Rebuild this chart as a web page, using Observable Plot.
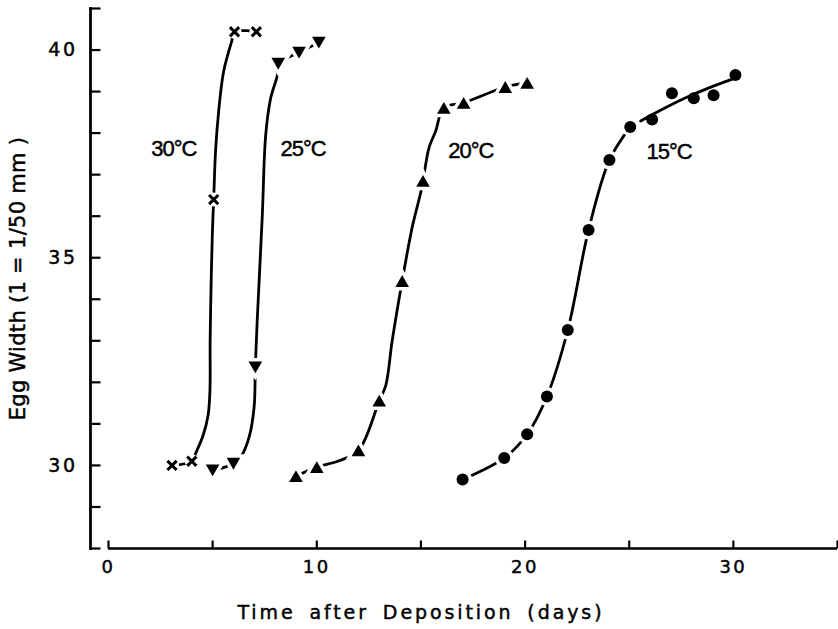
<!DOCTYPE html>
<html>
<head>
<meta charset="utf-8">
<script src="https://cdn.jsdelivr.net/npm/d3@7"></script>
<script src="https://cdn.jsdelivr.net/npm/@observablehq/plot@0.6"></script>
<style>
  body { margin: 0; background: #fff; }
  #chart svg { display: block; }
</style>
</head>
<body>
<div id="chart"></div>
<script>
// ---- axes ----
const xTicks = [0, 5, 10, 15, 20, 25, 30, 35];
const xTickLabels = [0, 10, 20, 30];
const yTicks = [28, 29, 30, 31, 32, 33, 34, 35, 36, 37, 38, 39, 40, 41];
const yTickLabels = [30, 35, 40];
const xTitle = "Time after Deposition (days)";
const yTitle = "Egg Width (1 = 1/50 mm )";

// ---- measured points (days, egg width) ----
const days30 = [3.05, 4.0, 5.05, 6.05, 7.1];
const width30 = [30.0, 30.1, 36.4, 40.44, 40.44];

const days25 = [5.0, 6.0, 7.05, 8.15, 9.15, 10.1];
const width25 = [29.88, 30.04, 32.36, 39.67, 39.94, 40.18];

const days20 = [9.0, 10.0, 12.0, 13.0, 14.1, 15.1, 16.1, 17.05, 19.05, 20.1];
const width20 = [29.74, 29.96, 30.36, 31.56, 34.44, 36.85, 38.61, 38.73, 39.11, 39.21];

const days15 = [17.0, 19.0, 20.1, 21.05, 22.05, 23.05, 24.05, 25.05, 26.1, 27.05, 28.1, 29.05, 30.1];
const width15 = [29.66, 30.18, 30.75, 31.66, 33.26, 35.67, 37.35, 38.15, 38.33, 38.96, 38.84, 38.91, 39.40];

// ---- hand-drawn fitted curves ----
const fit30 = [[3.05, 30.0], [4.0, 30.1], [4.2, 30.31], [4.54, 30.72], [4.78, 31.2], [4.87, 31.8],
  [4.88, 33.0], [4.93, 34.45], [4.99, 35.65], [5.05, 36.4], [5.14, 37.57], [5.29, 38.53],
  [5.53, 39.49], [5.92, 40.22], [6.05, 40.44], [7.1, 40.44]];
const fit25 = [[5.0, 29.88], [6.0, 30.04], [6.35, 30.2], [6.75, 30.68], [6.99, 31.4], [7.05, 32.36],
  [7.14, 33.49], [7.38, 35.97], [7.55, 37.97], [7.79, 38.85], [8.1, 39.38], [8.15, 39.67],
  [9.15, 39.94], [10.1, 40.18]];
const fit20 = [[9.0, 29.74], [10.0, 29.96], [11.0, 30.1], [12.0, 30.36], [13.0, 31.56], [13.31, 31.92], [13.62, 33.0],
  [14.1, 34.44], [14.58, 35.73], [14.99, 36.57], [15.1, 36.85], [15.39, 37.65], [15.71, 38.05],
  [16.1, 38.61], [17.05, 38.73], [19.05, 39.11], [20.1, 39.21]];
const fit15Lower = [[17.0, 29.66], [19.0, 30.18], [20.1, 30.75], [21.05, 31.66], [22.05, 33.26],
  [23.05, 35.67], [24.05, 37.35], [25.05, 38.15]];
const fit15Upper = [[25.55, 38.29], [26.43, 38.53], [27.71, 38.85], [28.83, 39.09], [29.95, 39.3]];

// ---- temperature labels ----
const seriesLabels = ["30°C", "25°C", "20°C", "15°C"];
const labelDay = [3.14, 9.34, 17.4, 26.91];
const labelWidth = [37.62, 37.62, 37.57, 37.55];

// ---- helpers ----
const rows = (xs, ys) => xs.map((x, i) => ({x, y: ys[i]}));
const pairs = (arr) => arr.map(([x, y]) => ({x, y}));
const labels = seriesLabels.map((t, i) => ({t, x: labelDay[i], y: labelWidth[i]}));

const triUp = {draw(ctx, size) {
  const r = Math.sqrt(size / Math.PI);
  ctx.moveTo(0, -0.95 * r); ctx.lineTo(1.1 * r, 0.95 * r); ctx.lineTo(-1.1 * r, 0.95 * r); ctx.closePath();
}};
const triDown = {draw(ctx, size) {
  const r = Math.sqrt(size / Math.PI);
  ctx.moveTo(0, 0.95 * r); ctx.lineTo(1.1 * r, -0.95 * r); ctx.lineTo(-1.1 * r, -0.95 * r); ctx.closePath();
}};
const cross = {draw(ctx, size) {
  const r = Math.sqrt(size / Math.PI);
  ctx.moveTo(-r, -r); ctx.lineTo(r, r); ctx.moveTo(r, -r); ctx.lineTo(-r, r);
}};
const tickRight = {draw(ctx) { ctx.moveTo(0, 0); ctx.lineTo(10, 0); }};
const tickUp = {draw(ctx) { ctx.moveTo(0, 0); ctx.lineTo(0, -8); }};

const lineOpts = {x: "x", y: "y", curve: "catmull-rom", stroke: "black", strokeWidth: 2.8, strokeLinecap: "round"};
const halo = {x: "x", y: "y", r: 6.2, fill: "black", stroke: "white", strokeWidth: 7, paintOrder: "stroke"};

const chart = Plot.plot({
  width: 838,
  height: 629,
  marginLeft: 90,
  marginRight: 1,
  marginTop: 8,
  marginBottom: 81,
  x: {domain: [-0.864, 35]},
  y: {domain: [yTicks[0], yTicks[yTicks.length - 1]]},
  style: {fontFamily: "'DejaVu Sans', sans-serif", background: "white", color: "black", overflow: "visible"},
  marks: [
    // axes
    Plot.frame({anchor: "left", strokeWidth: 2.8}),
    Plot.dot(yTicks, {y: d => d, frameAnchor: "left", symbol: tickRight, fill: "none", stroke: "black", strokeWidth: 2.2}),
    Plot.ruleY([yTicks[0]], {x1: xTicks[0], x2: xTicks[xTicks.length - 1], strokeWidth: 2.4}),
    Plot.dot(xTicks, {x: d => d, frameAnchor: "bottom", symbol: tickUp, fill: "none", stroke: "black", strokeWidth: 2.2}),
    Plot.axisY({ticks: yTickLabels, tickSize: 0, tickPadding: 13, fontSize: 19, label: null}),
    Plot.axisX({ticks: xTickLabels, tickSize: 0, tickPadding: 12, fontSize: 18, label: null}),
    Plot.text([xTitle], {x: d3.mean(xTickLabels), frameAnchor: "bottom", lineAnchor: "middle", textAnchor: "middle", dy: 64, fontSize: 19, text: d => d}),
    Plot.text([yTitle], {frameAnchor: "left", textAnchor: "middle", lineAnchor: "middle", dx: -72, rotate: -90, fontSize: 21, text: d => d}),

    // curves
    Plot.line(pairs(fit30), lineOpts),
    Plot.line(pairs(fit25), lineOpts),
    Plot.line(pairs(fit20), lineOpts),
    Plot.line(pairs(fit15Lower), lineOpts),

    // markers with white halos (gaps in the line)
    Plot.dot(rows(days30, width30), {x: "x", y: "y", r: 7, fill: "white"}),
    Plot.dot(rows(days30, width30), {x: "x", y: "y", r: 4.6, symbol: cross, fill: "none", stroke: "black", strokeWidth: 3}),
    Plot.dot(rows(days25, width25), {...halo, symbol: triDown}),
    Plot.dot(rows(days20, width20), {...halo, symbol: triUp}),
    Plot.dot(rows(days15, width15), {...halo, symbol: "circle", r: 6}),

    // fitted line over upper 15°C points
    Plot.line(pairs(fit15Upper), lineOpts),

    // temperature labels
    Plot.text(labels, {x: "x", y: "y", text: "t", fontSize: 22, fontFamily: "'Liberation Sans', Arial, sans-serif"})
  ]
});

// letter spacing and slightly heavier strokes to imitate the stencil lettering
chart.querySelectorAll("text").forEach(t => {
  const s = t.textContent;
  t.style.stroke = "black";
  t.style.strokeWidth = "0.45px";
  if (s === xTitle) { t.style.letterSpacing = "2.9px"; t.style.wordSpacing = "5px"; }
  else if (s === yTitle) { t.style.letterSpacing = "0.3px"; }
  else if (seriesLabels.includes(s)) { t.style.letterSpacing = "-1px"; }
  else if (/^\d+$/.test(s)) { t.style.letterSpacing = "2.5px"; }
});
document.getElementById("chart").appendChild(chart);
</script>
</body>
</html>
